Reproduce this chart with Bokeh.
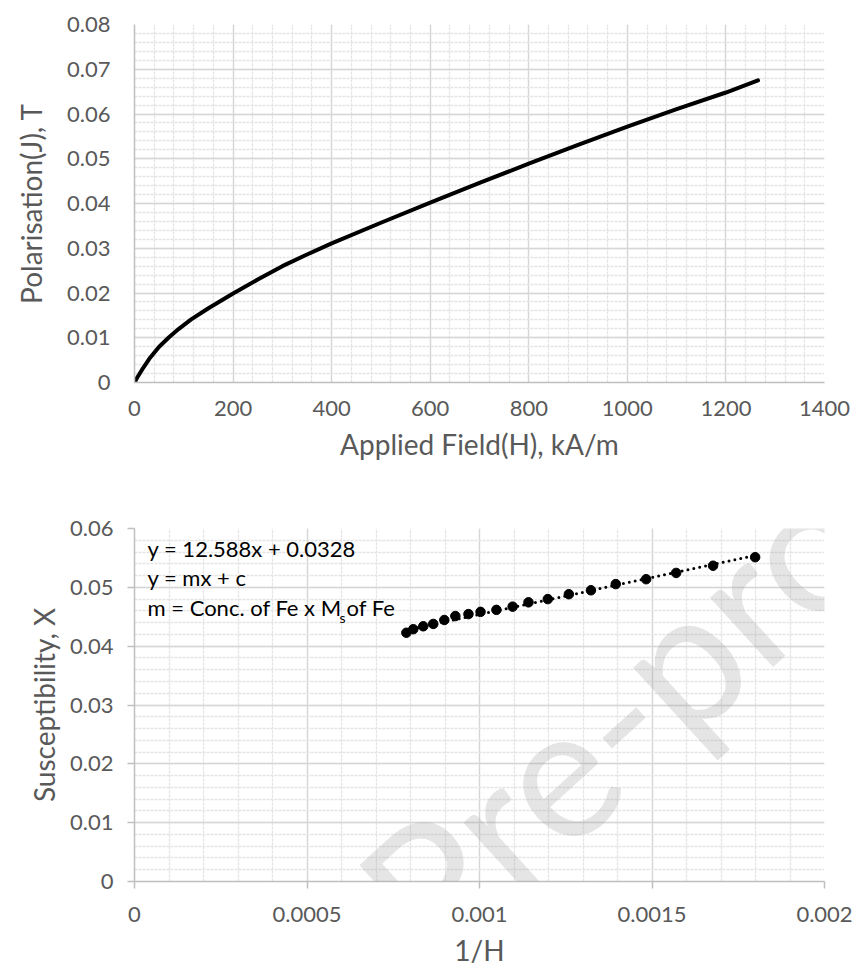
from bokeh.plotting import figure
from bokeh.layouts import column
from bokeh.models import Range1d, SingleIntervalTicker, CustomJSTickFormatter, Label
from bokeh.embed import file_html
from bokeh.resources import INLINE

# ---------------- data ----------------
field_H = [0, 5, 15, 30, 50, 70, 90, 115, 150, 200, 250, 300, 350, 400, 500,
           600, 700, 800, 900, 1000, 1100, 1200, 1265]
polarisation_J = [0, 0.0010, 0.0028, 0.0053, 0.0080, 0.0101, 0.0120, 0.0141,
                  0.0166, 0.0199, 0.0230, 0.0260, 0.0286, 0.0311, 0.0357,
                  0.0402, 0.0446, 0.0489, 0.0531, 0.0572, 0.0611, 0.0648, 0.0675]

inv_H = [0.000788, 0.000808, 0.000837, 0.000866, 0.000898, 0.000930,
         0.000968, 0.001003, 0.001049, 0.001096, 0.001142, 0.001198,
         0.001259, 0.001323, 0.001395, 0.001483, 0.001570, 0.001677, 0.001799]
susceptibility = [0.04228, 0.04288, 0.04338, 0.04378, 0.04445, 0.04512,
                  0.04545, 0.04583, 0.04617, 0.04672, 0.04745, 0.04800,
                  0.04883, 0.04950, 0.05055, 0.05138, 0.05245, 0.05367, 0.05512]

trend_slope = 12.588
trend_intercept = 0.0328

top_x_range = (0, 1400)
top_y_range = (0, 0.08)
bot_x_range = (0, 0.002)
bot_y_range = (0, 0.06)
top_x_step, top_y_step = 200, 0.01
bot_x_step, bot_y_step = 0.0005, 0.01

top_x_title = "Applied Field(H), kA/m"
top_y_title = "Polarisation(J), T"
bot_x_title = "1/H"
bot_y_title = "Susceptibility, X"
eq_lines = ["y = 12.588x + 0.0328", "y = mx + c"]
eq_line3 = ["m = Conc. of Fe x M", "s", " of Fe"]
watermark = "Pre-proof"

FONT = "Lato"
GREY = "#595959"

fmt = CustomJSTickFormatter(code="return String(parseFloat(tick.toFixed(6)));")


def style(p, xstep, ystep, ticks_out):
    p.outline_line_color = None
    p.background_fill_color = "white"
    p.border_fill_color = "white"
    p.xaxis.ticker = SingleIntervalTicker(interval=xstep, num_minor_ticks=5)
    p.yaxis.ticker = SingleIntervalTicker(interval=ystep, num_minor_ticks=5)
    p.xgrid.ticker = p.xaxis.ticker
    p.ygrid.ticker = p.yaxis.ticker
    for g in (p.xgrid, p.ygrid):
        g.grid_line_color = "#d6d6d6"
        g.grid_line_width = 1.3
        g.minor_grid_line_color = "#e4e4e4"
        g.minor_grid_line_dash = "3 1"
        g.minor_grid_line_width = 1.3
    for ax in (p.xaxis, p.yaxis):
        ax.formatter = fmt
        ax.axis_line_color = "#bfbfbf"
        ax.axis_line_width = 1.5
        ax.minor_tick_line_color = None
        ax.major_label_text_font = FONT
        ax.major_label_text_font_size = "22px"
        ax.major_label_text_color = GREY
        ax.axis_label_text_font = FONT
        ax.axis_label_text_font_size = "28px"
        ax.axis_label_text_font_style = "normal"
        ax.axis_label_text_color = GREY
        if ticks_out:
            ax.major_tick_line_color = "#bfbfbf"
            ax.major_tick_line_width = 1.5
            ax.major_tick_out = 7
            ax.major_tick_in = 0
        else:
            ax.major_tick_line_color = None
            ax.major_tick_out = 0
            ax.major_tick_in = 0


def add_watermark(p, x, y):
    p.add_layout(Label(x=x, y=y, text=watermark, text_font=FONT,
                       text_font_size="185px", text_font_style="normal",
                       angle=0.74, text_color="#a0a0a0", text_alpha=0.28))


# ---------------- top chart ----------------
top = figure(width=855, height=480, output_backend="svg", toolbar_location=None,
             x_range=Range1d(*top_x_range), y_range=Range1d(*top_y_range),
             min_border_left=134, min_border_right=27, min_border_top=24,
             min_border_bottom=98)
style(top, top_x_step, top_y_step, False)
top.xaxis.axis_label = top_x_title
top.yaxis.axis_label = top_y_title
top.yaxis.major_label_standoff = 20
top.xaxis.major_label_standoff = 14
top.xaxis.axis_label_standoff = 8
top.yaxis.axis_label_standoff = 16
top.line(field_H, polarisation_J, line_color="black", line_width=4,
         line_cap="round", line_join="round")

# ---------------- bottom chart ----------------
bot = figure(width=855, height=489, output_backend="svg", toolbar_location=None,
             x_range=Range1d(*bot_x_range), y_range=Range1d(*bot_y_range),
             min_border_left=134, min_border_right=31, min_border_top=48,
             min_border_bottom=81)
style(bot, bot_x_step, bot_y_step, True)
bot.xaxis.axis_label = bot_x_title
bot.yaxis.axis_label = bot_y_title
bot.yaxis.major_label_standoff = 14
bot.xaxis.major_label_standoff = 18
bot.xaxis.axis_label_standoff = 8
bot.yaxis.axis_label_standoff = 6

tx = [min(inv_H), max(inv_H)]
ty = [trend_slope * v + trend_intercept for v in tx]
bot.line(tx, ty, line_color="black", line_width=3, line_dash="0 6",
         line_cap="round")
bot.scatter(inv_H, susceptibility, size=9.5, marker="circle",
            fill_color="black", line_color="black")

# equation text box (positions in data units of the bottom chart)
x0 = 0.0000378
FS = "22px"
bot.add_layout(Label(x=x0, y=0.05430, text=eq_lines[0], text_font=FONT,
                     text_font_size=FS, text_color="black"))
bot.add_layout(Label(x=x0, y=0.04930, text=eq_lines[1], text_font=FONT,
                     text_font_size=FS, text_color="black"))
bot.add_layout(Label(x=x0, y=0.04430, text=eq_line3[0], text_font=FONT,
                     text_font_size=FS, text_color="black"))
bot.add_layout(Label(x=x0, y=0.04430, x_offset=192, y_offset=-5, text=eq_line3[1],
                     text_font=FONT, text_font_size="14px", text_color="black"))
bot.add_layout(Label(x=x0, y=0.04430, x_offset=199, text=eq_line3[2],
                     text_font=FONT, text_font_size=FS, text_color="black"))

# "Pre-proof" watermark overlay, continuous across both panels
add_watermark(bot, 0.000951, -0.0207)
add_watermark(top, 685.0, -0.15565)

layout = column(top, bot, spacing=0)
with open("out.html", "w") as f:
    f.write(file_html(layout, INLINE))
